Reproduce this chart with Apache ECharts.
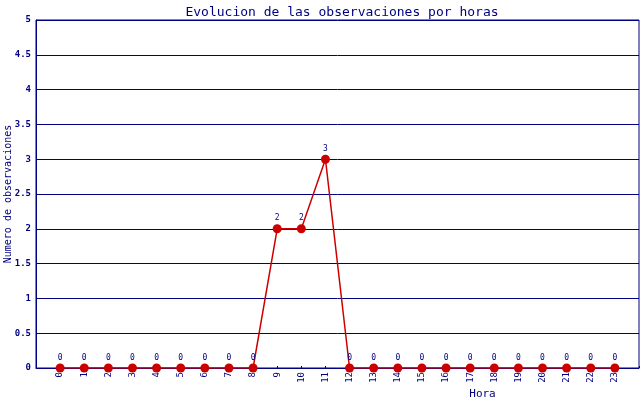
<!DOCTYPE html>
<html>
<head>
<meta charset="utf-8">
<script src="https://cdn.jsdelivr.net/npm/echarts@6/dist/echarts.min.js"></script>
<style>html,body{margin:0;padding:0;background:#fff;}#c{width:640px;height:400px;}</style>
</head>
<body>
<div id="c"></div>
<script>
var hours = [0,1,2,3,4,5,6,7,8,9,10,11,12,13,14,15,16,17,18,19,20,21,22,23];
var observations = [0,0,0,0,0,0,0,0,0,2,2,3,0,0,0,0,0,0,0,0,0,0,0,0];
var yTicks = [0,0.5,1,1.5,2,2.5,3,3.5,4,4.5,5];

var navy = '#000080';
var red = '#cc0000';
var mono = '"DejaVu Sans Mono", monospace';
var chart = echarts.init(document.getElementById('c'));
chart.setOption({
  animation: false,
  backgroundColor: '#fff',
  title: {
    text: 'Evolucion de las observaciones por horas',
    left: 337, textAlign: 'center', top: 1,
    textStyle: {color: navy, fontFamily: mono, fontSize: 13, fontWeight: 'normal'}
  },
  grid: {left: 36, right: 1, top: 20, bottom: 32, containLabel: false, outerBoundsMode: 'none',
    show: true, borderColor: navy, borderWidth: 1},
  xAxis: {
    type: 'value', min: -1, max: 24, interval: 1,
    name: 'Hora', nameLocation: 'middle', nameGap: 21, nameMoveOverlap: false,
    nameTextStyle: {color: navy, fontFamily: mono, fontSize: 11, padding: [0,0,0,290]},
    axisLine: {show: true, onZero: false, lineStyle: {color: navy, width: 1}},
    axisTick: {show: true, inside: true, length: 2, lineStyle: {color: navy}},
    splitLine: {show: false},
    axisLabel: {
      rotate: 90, margin: 4, color: navy, fontFamily: mono, fontSize: 9,
      formatter: function (v) { return hours.indexOf(v) >= 0 ? String(v) : ''; }
    }
  },
  yAxis: {
    type: 'value', min: yTicks[0], max: yTicks[yTicks.length-1], interval: 0.5,
    name: 'Numero de observaciones', nameLocation: 'middle', nameGap: 23, nameMoveOverlap: false,
    nameTextStyle: {color: navy, fontFamily: mono, fontSize: 10},
    axisLine: {show: true, onZero: false, lineStyle: {color: navy, width: 1}},
    axisTick: {show: false},
    splitLine: {show: true, lineStyle: {color: navy, width: 1}},
    axisLabel: {margin: 5, color: navy, fontFamily: mono, fontSize: 9, fontWeight: 'bold'}
  },
  series: [{
    type: 'line',
    data: hours.map(function (h, i) { return [h, observations[i]]; }),
    symbol: 'circle', symbolSize: 9,
    lineStyle: {color: red, width: 1.5},
    itemStyle: {color: red},
    label: {show: true, position: 'top', distance: 2, color: navy, fontFamily: mono, fontSize: 8,
      formatter: function (p) { return String(p.value[1]); }}
  }]
});
</script>
</body>
</html>
